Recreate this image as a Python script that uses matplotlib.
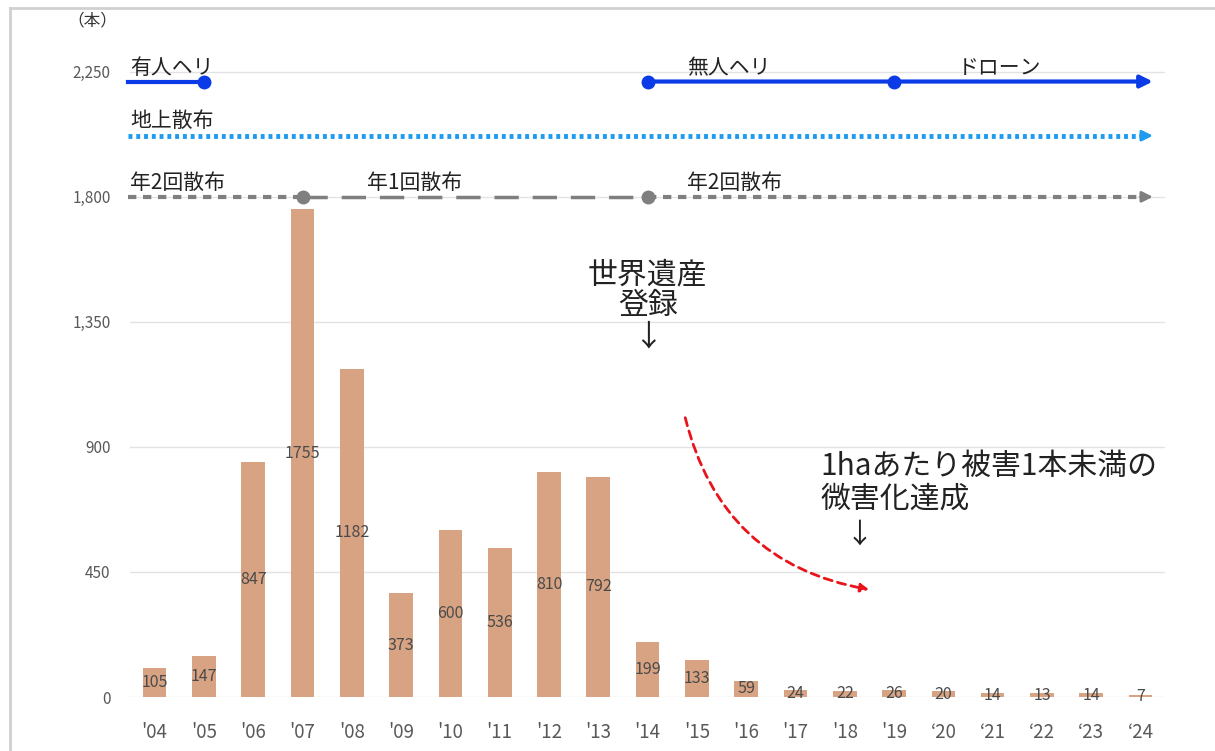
import matplotlib.pyplot as plt
from matplotlib.patches import FancyArrowPatch
from matplotlib.lines import Line2D

plt.rcParams['font.family'] = ['Noto Sans CJK JP', 'DejaVu Sans']

# data
years = ["'04", "'05", "'06", "'07", "'08", "'09", "'10", "'11", "'12", "'13", "'14",
         "'15", "'16", "'17", "'18", "'19", "‘20", "‘21", "‘22", "‘23", "‘24"]
damage = [105, 147, 847, 1755, 1182, 373, 600, 536, 810, 792, 199,
          133, 59, 24, 22, 26, 20, 14, 13, 14, 7]
yticks = [0, 450, 900, 1350, 1800, 2250]

bar_color = '#D7A383'
txt_gray = '#595959'

fig = plt.figure(figsize=(12.15, 7.51), dpi=100)
ax = fig.add_axes([0.107, 0.0719, 0.852, 0.8695])

x = list(range(len(years)))
ax.bar(x, damage, width=0.48, color=bar_color, zorder=2)
for xi, v in zip(x, damage):
    ax.text(xi, v / 2, str(v), ha='center', va='center', fontsize=11.5,
            color='#4A4A4A', zorder=3)

ax.set_xlim(-0.5, len(years) - 0.5)
ax.set_ylim(0, 2350)
ax.set_yticks(yticks)
ax.set_yticklabels([f'{t:,}' for t in yticks], fontsize=11, color=txt_gray)
ax.set_xticks(x)
ax.set_xticklabels(years, fontsize=13.5, color=txt_gray)
ax.tick_params(length=0, axis='y', pad=14)
ax.tick_params(length=0, axis='x', pad=18)
ax.grid(axis='y', color='#E3E3E3', lw=1, zorder=0)
for s in ax.spines.values():
    s.set_visible(False)

# method timeline (blue: helicopter/drone)
blue = '#0A3BE6'
y_heli = 2215
ax.plot([-0.55, 1], [y_heli, y_heli], color=blue, lw=3, zorder=4, clip_on=False)
ax.plot([1], [y_heli], 'o', color=blue, ms=9, zorder=5)
ax.annotate('', xy=(20.25, y_heli), xytext=(10, y_heli),
            arrowprops=dict(arrowstyle='-|>', color=blue, lw=3, mutation_scale=18,
                            shrinkA=0, shrinkB=0), zorder=4)
ax.plot([10, 15], [y_heli, y_heli], 'o', color=blue, ms=9, zorder=5)
ax.text(-0.5, y_heli + 8, '有人ヘリ', fontsize=15, color='#222222', va='bottom')
ax.text(10.8, y_heli + 8, '無人ヘリ', fontsize=15, color='#222222', va='bottom')
ax.text(16.3, y_heli + 8, 'ドローン', fontsize=15, color='#222222', va='bottom')

# ground spraying
lblue = '#1E9BF0'
y_gr = 2020
ax.plot([-0.55, 20.1], [y_gr, y_gr], color=lblue, lw=3.5, ls=(0, (0.8, 0.8)),
        zorder=4, clip_on=False)
ax.annotate('', xy=(20.25, y_gr), xytext=(20.0, y_gr),
            arrowprops=dict(arrowstyle='-|>', color=lblue, lw=2, mutation_scale=16,
                            shrinkA=0, shrinkB=0), zorder=4)
ax.text(-0.5, y_gr + 12, '地上散布', fontsize=15, color='#222222', va='bottom')

# spraying frequency
gray = '#7F7F7F'
y_fr = 1800
ax.plot([-0.55, 3], [y_fr, y_fr], color=gray, lw=3, ls=(0, (2, 1.6)), zorder=4,
        clip_on=False)
ax.plot([3, 10], [y_fr, y_fr], color=gray, lw=2.5, ls=(0, (7, 4)), zorder=4)
ax.plot([10, 20.1], [y_fr, y_fr], color=gray, lw=3, ls=(0, (2, 1.6)), zorder=4)
ax.annotate('', xy=(20.25, y_fr), xytext=(20.0, y_fr),
            arrowprops=dict(arrowstyle='-|>', color=gray, lw=2, mutation_scale=16,
                            shrinkA=0, shrinkB=0), zorder=4)
ax.plot([3, 10], [y_fr, y_fr], 'o', color=gray, ms=9, zorder=5)
ax.text(-0.5, y_fr + 12, '年2回散布', fontsize=15, color='#222222', va='bottom')
ax.text(4.3, y_fr + 12, '年1回散布', fontsize=15, color='#222222', va='bottom')
ax.text(10.8, y_fr + 12, '年2回散布', fontsize=15, color='#222222', va='bottom')

# annotations
ax.text(10.0, 1575, '世界遺産\n登録\n↓', fontsize=21.5, ha='center', va='top',
        color='#222222', linespacing=1.0)
ax.text(13.5, 885, '1haあたり被害1本未満の\n微害化達成', fontsize=21.5, ha='left',
        va='top', color='#222222', linespacing=1.05)
ax.text(14.3, 640, '↓', fontsize=20, ha='center', va='top', color='#222222')

curve = FancyArrowPatch((10.75, 1015), (14.55, 385),
                        connectionstyle='arc3,rad=0.33', arrowstyle='-|>',
                        mutation_scale=12, color='#E8141B', lw=2,
                        linestyle=(0, (3, 2)), zorder=5)
ax.add_patch(curve)

fig.text(0.076, 0.972, '（本）', fontsize=12, color='#333333', ha='center', va='center')

# light frame of the original slide
fig.add_artist(Line2D([0.0085, 1.0], [0.989, 0.989], color='#D0D0D0', lw=2,
                      transform=fig.transFigure))
fig.add_artist(Line2D([0.0085, 0.0085], [0.0, 0.989], color='#D0D0D0', lw=2,
                      transform=fig.transFigure))

fig.savefig('out.png', dpi=100)
